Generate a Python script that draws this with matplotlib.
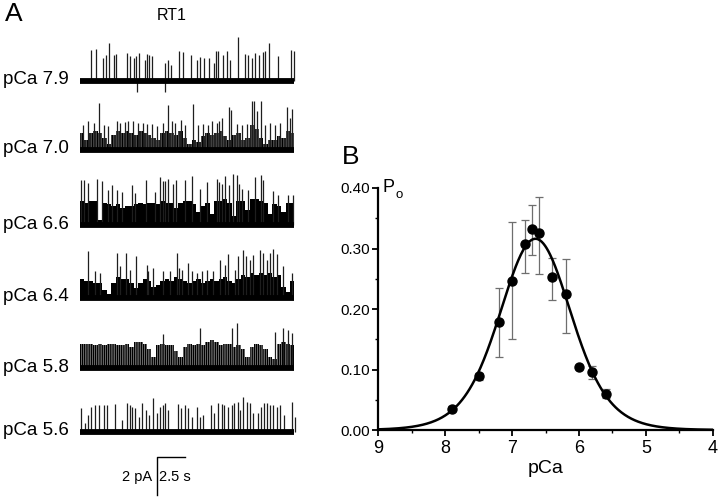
import numpy as np
import matplotlib
matplotlib.use("Agg")
import matplotlib.pyplot as plt
from matplotlib.ticker import MultipleLocator

plt.rcParams['font.family'] = ['Liberation Sans', 'DejaVu Sans']

# ---- panel A: single channel records (times in s, amplitudes in pA) ----
trace_labels = ['pCa 7.9', 'pCa 7.0', 'pCa 6.6', 'pCa 6.4', 'pCa 5.8', 'pCa 5.6']
trace_dur = 19.2
bin_w = 0.4

spk_t_79 = [0.99, 1.40, 2.06, 2.30, 2.63, 3.07, 3.25, 4.24, 4.51, 4.81, 5.01, 5.28, 5.82, 6.00, 6.18,
            6.48, 7.61, 7.91, 8.15, 8.87, 9.25, 9.94, 10.45, 10.78, 11.13, 11.55, 12.00, 12.21, 12.39,
            12.78, 13.13, 13.46, 14.18, 14.78, 15.01, 15.37, 15.67, 16.03, 16.42, 16.57, 16.93, 17.76,
            18.90, 19.16, 5.07, 7.61]
spk_h_79 = [1.60, 1.68, 1.19, 1.37, 1.98, 1.37, 1.42, 1.46, 1.28, 1.19, 1.28, 1.46, 1.11, 1.42, 1.37,
            1.32, 0.93, 1.11, 0.84, 1.54, 1.49, 1.35, 1.11, 1.25, 1.21, 1.19, 0.93, 1.54, 1.54,
            1.37, 1.54, 1.07, 2.30, 1.42, 1.37, 1.19, 1.46, 1.37, 1.49, 1.54, 2.00, 1.32,
            1.60, 1.54, -0.6, -0.6]

spk_t_70 = [0.30, 0.75, 1.28, 1.70, 2.18, 2.54, 3.28, 3.58, 4.03, 4.33, 4.78, 5.22, 5.67, 5.97, 6.42,
            6.87, 7.46, 7.85, 8.21, 8.51, 9.04, 9.40, 10.15, 10.60, 10.99, 11.49, 11.79, 12.24, 12.48,
            12.69, 13.34, 13.52, 14.03, 14.48, 14.93, 15.37, 15.58, 15.82, 16.18, 16.57, 17.01, 17.46,
            17.91, 18.51, 18.81, 19.01]
spk_h_70 = [1.32, 1.53, 1.40, 2.46, 1.32, 1.23, 1.49, 1.40, 1.46, 1.49, 1.49, 1.40, 1.40, 1.35, 1.35,
            1.23, 1.40, 2.37, 1.49, 1.40, 1.58, 1.32, 2.40, 1.32, 1.35, 1.32, 1.49, 1.40, 1.53,
            1.67, 2.23, 2.11, 1.35, 1.32, 1.35, 2.58, 2.54, 2.02, 2.54, 1.32, 1.40, 1.32,
            1.40, 2.23, 1.67, 2.16]
band_70 = [0.9, 0.5, 0.9, 1.0, 0.9, 0.6, 0.3, 0.8, 1.0, 0.9, 1.0, 0.9, 0.8, 1.0, 0.9, 0.8,
           0.6, 0.5, 0.9, 1.0, 0.9, 0.8, 1.0, 0.6, 0.3, 0.5, 0.4, 0.7, 0.9, 0.8, 0.9, 1.0,
           0.7, 0.5, 0.8, 0.9, 0.5, 0.6, 1.3, 1.1, 0.6, 0.3, 0.5, 0.5, 0.7, 0.6, 1.0, 0.9]

spk_t_66 = [0.05, 0.39, 0.75, 1.49, 2.00, 2.54, 2.84, 3.28, 3.73, 4.63, 4.93, 5.88, 6.72, 7.16, 7.46,
            7.61, 7.91, 8.30, 8.57, 9.40, 10.06, 10.75, 11.34, 12.24, 12.48, 12.69, 12.99, 13.34,
            13.73, 14.03, 14.27, 14.48, 15.07, 15.67, 16.18, 16.42, 17.31, 17.76, 18.66, 19.10]
spk_h_66 = [2.37, 2.37, 2.25, 2.42, 2.32, 1.84, 2.14, 1.84, 1.75, 2.14, 1.72, 2.37, 1.75, 2.54, 2.32,
            2.32, 2.46, 2.19, 2.37, 2.37, 2.60, 1.93, 2.28, 2.42, 2.28, 2.19, 2.60, 2.11,
            2.72, 2.67, 2.19, 1.93, 1.84, 2.54, 2.67, 2.37, 1.79, 1.61, 1.58, 1.58]
band_66 = [1.3, 1.2, 1.3, 1.3, 0.3, 1.2, 1.1, 1.0, 1.1, 0.9, 1.0, 1.0, 1.1, 1.2, 1.1, 1.2,
           1.2, 1.1, 1.3, 1.2, 1.2, 0.9, 1.2, 1.3, 1.3, 1.1, 0.7, 1.0, 1.2, 0.6, 1.3, 1.3,
           1.4, 1.2, 0.5, 1.3, 1.3, 0.8, 1.4, 1.4, 1.3, 1.2, 0.6, 1.1, 1.0, 0.7, 1.2, 1.2]

spk_t_64 = [0.69, 1.34, 1.79, 3.28, 3.58, 4.09, 4.48, 4.99, 5.97, 6.12, 6.57, 7.46, 8.06, 8.66, 8.87,
            9.16, 9.64, 10.00, 10.45, 10.90, 11.34, 11.94, 12.57, 12.99, 13.28, 13.88, 14.18, 14.57,
            14.84, 15.22, 15.46, 16.12, 16.42, 16.72, 17.01, 17.31, 17.61, 18.21, 18.96]
spk_h_64 = [2.46, 1.40, 1.32, 2.37, 1.67, 2.37, 1.49, 2.19, 1.75, 1.40, 1.58, 1.40, 1.40, 2.37, 1.58,
            1.49, 1.84, 1.40, 1.32, 1.40, 1.49, 1.40, 2.02, 1.75, 2.32, 1.49, 2.19, 2.54,
            2.19, 2.02, 2.28, 2.54, 2.37, 2.02, 2.37, 2.60, 2.32, 1.67, 1.32]
band_64 = [1.0, 0.9, 0.9, 0.8, 0.8, 0.4, 0.2, 0.8, 1.1, 1.0, 1.0, 0.8, 0.5, 0.8, 1.0, 0.9,
           0.6, 0.7, 0.9, 1.0, 0.9, 1.1, 1.0, 0.9, 0.8, 0.9, 1.0, 0.8, 0.9, 1.0, 0.9, 1.0,
           1.1, 0.9, 0.8, 1.0, 1.2, 1.1, 1.3, 1.2, 1.3, 1.2, 1.3, 1.1, 1.2, 0.6, 0.3, 0.9]

spk_t_58 = [7.46, 10.75, 13.58, 14.03, 17.46, 18.21, 18.66, 18.96]
spk_h_58 = [1.81, 2.11, 2.11, 2.37, 1.93, 2.11, 2.02, 1.84]
band_58 = [1.3, 1.3, 1.3, 1.2, 1.3, 1.2, 1.3, 1.3, 1.2, 1.2, 1.3, 1.1, 1.4, 1.4, 1.3, 1.0,
           0.6, 1.2, 1.3, 1.2, 1.2, 0.9, 0.6, 1.1, 1.3, 1.2, 1.3, 1.2, 1.4, 1.5, 1.4, 1.2,
           1.3, 1.3, 1.1, 1.2, 1.0, 0.6, 1.1, 1.3, 1.2, 1.0, 0.6, 0.5, 1.3, 1.4, 1.3, 1.2]

spk_t_56 = [0.09, 0.45, 0.75, 0.99, 1.34, 1.70, 2.18, 2.39, 3.13, 3.79, 4.24, 4.48, 4.69, 4.93, 5.28,
            5.58, 5.88, 6.18, 6.57, 6.87, 7.16, 7.40, 7.61, 7.85, 8.75, 9.04, 9.40, 9.70, 10.00,
            10.45, 10.75, 11.04, 11.73, 12.03, 12.39, 12.69, 12.93, 13.28, 13.58, 13.82, 14.12,
            14.33, 14.63, 14.93, 15.22, 15.52, 15.91, 16.21, 16.51, 16.72, 17.01, 17.31, 17.61,
            17.91, 18.30, 18.96, 19.25]
spk_h_56 = [1.23, 0.44, 0.88, 1.32, 1.40, 1.40, 1.40, 1.40, 1.46, 0.61, 1.49, 1.40, 1.32, 1.23, 0.79,
            1.53, 1.14, 0.88, 1.75, 0.96, 1.32, 1.40, 1.49, 1.14, 1.46, 1.23, 1.40, 1.23, 0.79,
            1.32, 0.79, 0.88, 1.40, 0.96, 1.49, 1.46, 1.40, 1.32, 1.40, 1.49, 1.58,
            1.14, 1.81, 1.58, 1.49, 0.96, 0.96, 1.32, 1.49, 1.49, 1.40, 1.40, 1.32,
            1.40, 0.88, 1.58, 0.79]

# ---- panel B: open probability vs pCa ----
pca = [7.9, 7.5, 7.2, 7.0, 6.8, 6.7, 6.6, 6.4, 6.2, 6.0, 5.8, 5.6]
po_mean = [0.035, 0.089, 0.179, 0.247, 0.307, 0.333, 0.325, 0.253, 0.224, 0.104, 0.096, 0.060]
po_low = [0.031, 0.083, 0.120, 0.151, 0.260, 0.290, 0.258, 0.215, 0.160, 0.104, 0.085, 0.053]
po_high = [0.039, 0.095, 0.234, 0.343, 0.347, 0.372, 0.385, 0.285, 0.282, 0.104, 0.105, 0.067]
# bell-shaped fit: activation * inactivation
p_max = 0.565
pk_act = 7.0
pk_inact = 6.3
n_hill = 1.35

# layout of panel A (pA / s units)
px_per_s = 11.17
px_per_pa = 19.0
trace_base = [21.96, 18.33, 14.35, 10.53, 6.83, 3.49]

fig = plt.figure(figsize=(7.2, 4.98), dpi=100)

# panel A
ax_a = fig.add_axes([0, 0, 0.46, 1])
ax_a.set_xlim(-80 / px_per_s, (0.46 * 720 - 80) / px_per_s)
ax_a.set_ylim(0, 498 / px_per_pa)
ax_a.axis('off')

# (spike times, spike heights, burst band, hatch pattern, hatch width)
traces = [(spk_t_79, spk_h_79, None, None, 0),
          (spk_t_70, spk_h_70, band_70, '|' * 10, 1.0),
          (spk_t_66, spk_h_66, band_66, '|' * 13, 1.6),
          (spk_t_64, spk_h_64, band_64, '|' * 11, 1.25),
          (spk_t_58, spk_h_58, band_58, '|' * 9, 1.05),
          (spk_t_56, spk_h_56, None, None, 0)]

for (st, sh, band, hatch, hlw), base, lab in zip(traces, trace_base, trace_labels):
    if band is not None:
        plt.rcParams['hatch.linewidth'] = hlw
        centers = bin_w / 2 + bin_w * np.arange(len(band))
        ax_a.bar(centers, band, width=bin_w, bottom=base, color='none',
                 edgecolor='black', hatch=hatch, linewidth=0)
    ax_a.vlines(st, base, base + np.array(sh), color='#1e1e1e', lw=0.9)
    ax_a.plot([0, trace_dur], [base, base], color='black', lw=4.2, solid_capstyle='butt')
    ax_a.text(-6.89, base + 0.05, lab, fontsize=13.5, ha='left', va='center')

# scale bar: 2 pA, 2.5 s
sb_t, sb_y = 6.87, 0.16
ax_a.plot([sb_t, sb_t, sb_t + 2.5], [sb_y, sb_y + 2, sb_y + 2], color='black', lw=1.0)
ax_a.text(sb_t - 0.4, 1.1, '2 pA', fontsize=10.5, ha='right', va='center')
ax_a.text(sb_t + 0.2, 1.1, '2.5 s', fontsize=10.5, ha='left', va='center')
ax_a.text(8.2, 25.42, 'RT1', fontsize=11.5, ha='center', va='center')

fig.text(0.007, 0.995, 'A', fontsize=19, ha='left', va='top')
fig.text(0.4746, 0.708, 'B', fontsize=19, ha='left', va='top')

# panel B
ax_b = fig.add_axes([0.5254, 0.1365, 0.4645, 0.486])
x_fit = np.linspace(9, 4, 400)
act = 1 / (1 + 10 ** (n_hill * (x_fit - pk_act)))
inact = 1 / (1 + 10 ** (n_hill * (pk_inact - x_fit)))
ax_b.plot(x_fit, p_max * act * inact, color='black', lw=1.8, zorder=2)

err_lo = np.array(po_mean) - np.array(po_low)
err_hi = np.array(po_high) - np.array(po_mean)
ax_b.errorbar(pca, po_mean, yerr=[err_lo, err_hi], fmt='none', ecolor='#6e6e6e',
              elinewidth=0.9, capsize=3.2, capthick=0.9, zorder=1)
ax_b.plot(pca, po_mean, 'o', color='black', ms=6.5, zorder=3)

ax_b.set_xlim(9, 4)
ax_b.set_ylim(0, 0.40)
ax_b.xaxis.set_minor_locator(MultipleLocator(0.5))
ax_b.yaxis.set_minor_locator(MultipleLocator(0.05))
ax_b.set_xticks([9, 8, 7, 6, 5, 4])
ax_b.set_xticklabels(['9', '8', '7', '6', '5', '4'])
ax_b.set_yticks([0, 0.1, 0.2, 0.3, 0.4])
ax_b.set_yticklabels(['0.00', '0.10', '0.20', '0.30', '0.40'])
for s in ['top', 'right']:
    ax_b.spines[s].set_visible(False)
for s in ['left', 'bottom']:
    ax_b.spines[s].set_linewidth(1.6)
ax_b.tick_params(axis='both', which='major', direction='out', length=4, width=1.3)
ax_b.tick_params(axis='both', which='minor', direction='out', length=2, width=1.0)
ax_b.tick_params(axis='x', labelsize=13, pad=3)
ax_b.tick_params(axis='y', labelsize=11, pad=2)
ax_b.set_xlabel('pCa', fontsize=14, labelpad=2)
ax_b.patch.set_visible(False)

ax_b.text(0.012, 1.0, 'P', transform=ax_b.transAxes, fontsize=13, ha='left', va='center')
ax_b.text(0.05, 0.972, 'o', transform=ax_b.transAxes, fontsize=9.5, ha='left', va='center')

fig.savefig('out.png', dpi=100)
